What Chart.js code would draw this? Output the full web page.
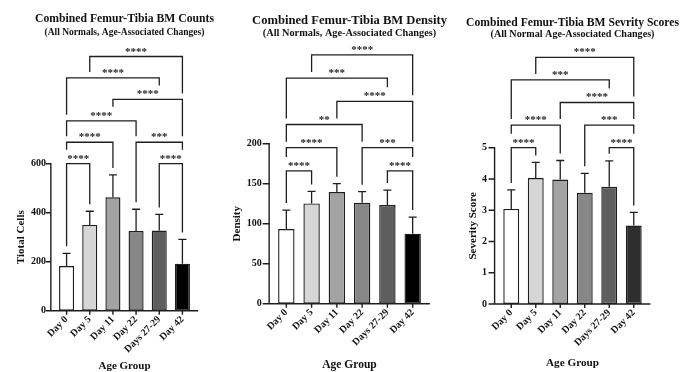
<!DOCTYPE html>
<html><head><meta charset="utf-8">
<script src="https://cdn.jsdelivr.net/npm/chart.js@4.4.1/dist/chart.umd.min.js"></script>
<style>
html,body{margin:0;padding:0;background:#fff;width:694px;height:372px;overflow:hidden;position:relative;}
canvas{position:absolute;top:0;}
</style></head><body>
<canvas id="c1" width="249" height="372" style="left:0px"></canvas>
<canvas id="c2" width="243" height="372" style="left:228px"></canvas>
<canvas id="c3" width="221" height="372" style="left:462px"></canvas>
<script>
// ---------- data ----------
const categories = ['Day 0', 'Day 5', 'Day 11', 'Day 22', 'Days 27-29', 'Day 42'];

const countMeans  = [182, 350, 463, 325, 327, 192];
const countErrors = [52, 56, 91, 89, 66, 99];
const countTicks  = [0, 200, 400, 600];

const densityMeans  = [93.3, 125.4, 139.6, 126.3, 123.3, 87.5];
const densityErrors = [23.7, 15.0, 10.4, 13.7, 18.7, 20.8];
const densityTicks  = [0, 50, 100, 150, 200];

const severityMeans  = [3.04, 4.03, 3.98, 3.56, 3.75, 2.51];
const severityErrors = [0.61, 0.50, 0.61, 0.62, 0.83, 0.42];
const severityTicks  = [0, 1, 2, 3, 4, 5];

// comparisons: [from index, to index, stars, tier]
const countComparisons = [
  [0, 1, '****', 0], [4, 5, '****', 0],
  [0, 2, '****', 1], [3, 5, '***', 1],
  [0, 3, '****', 2], [2, 5, '****', 3],
  [0, 4, '****', 4], [1, 5, '****', 5]
];
const densityComparisons = [
  [0, 1, '****', 0], [4, 5, '****', 0],
  [0, 2, '****', 1], [3, 5, '***', 1],
  [0, 3, '**', 2], [2, 5, '****', 3],
  [0, 4, '***', 4], [1, 5, '****', 5]
];
const severityComparisons = [
  [0, 1, '****', 0], [4, 5, '****', 0],
  [0, 2, '****', 1], [3, 5, '***', 1],
  [2, 5, '****', 2], [0, 4, '***', 3],
  [1, 5, '****', 4]
];

const countColors    = ['#ffffff', '#d6d6d6', '#a3a3a3', '#878787', '#5e5e5e', '#000000'];
const densityColors  = ['#ffffff', '#d6d6d6', '#a3a3a3', '#878787', '#5e5e5e', '#000000'];
const severityColors = ['#ffffff', '#d6d6d6', '#a3a3a3', '#878787', '#5e5e5e', '#2e2e2e'];

// ---------- drawing helpers ----------
const SERIF = '"Liberation Serif", "Times New Roman", serif';
const INK = '#1e1e1e';

const decorPlugin = {
  id: 'decor',
  afterDatasetsDraw(chart, args, opts) {
    const ctx = chart.ctx, xs = chart.scales.x, ys = chart.scales.y, ca = chart.chartArea;
    const meta = chart.getDatasetMeta(0);
    const vals = chart.data.datasets[0].data;
    const step = xs.getPixelForValue(1) - xs.getPixelForValue(0);
    const gap = step * opts.axisGap;
    const ax = ca.left - gap;
    const y0 = ys.getPixelForValue(0);
    ctx.save();
    ctx.strokeStyle = INK;
    ctx.lineWidth = 1.4;
    // axes
    ctx.beginPath();
    ctx.moveTo(ax, ys.getPixelForValue(ys.max) - 0.7);
    ctx.lineTo(ax, y0);
    ctx.lineTo(ca.right + gap, y0);
    ys.ticks.forEach(t => {
      const py = ys.getPixelForValue(t.value);
      ctx.moveTo(ax - opts.tickLen, py); ctx.lineTo(ax, py);
    });
    vals.forEach((v, i) => {
      const px = xs.getPixelForValue(i);
      ctx.moveTo(px, y0); ctx.lineTo(px, y0 + 4);
    });
    ctx.stroke();
    // error bars
    ctx.lineWidth = 1.3;
    const errTop = [];
    meta.data.forEach((bar, i) => {
      const px = bar.x;
      const top = ys.getPixelForValue(vals[i] + opts.errors[i]);
      errTop.push(top);
      ctx.beginPath();
      ctx.moveTo(px, bar.y); ctx.lineTo(px, top);
      ctx.moveTo(px - 4, top); ctx.lineTo(px + 4, top);
      ctx.stroke();
    });
    // brackets
    ctx.font = 'bold 11px ' + SERIF;
    const items = opts.brackets.map(b => {
      const [a, c, label, tier] = b;
      const y = ys.getPixelForValue(opts.tierBase + tier * opts.tierStep);
      const xa = xs.getPixelForValue(a), xc = xs.getPixelForValue(c);
      return { a, c, label, y, xa, xc, mid: (xa + xc) / 2, w: ctx.measureText(label).width, labelTop: y - 10 };
    });
    const legEnd = (item, idx, px) => {
      let best = errTop[idx] - 7;
      items.forEach(o => {
        if (o === item || o.y <= item.y + 1) return;
        if (idx >= o.a && idx <= o.c) best = Math.min(best, o.y - 6);
        if (Math.abs(px - o.mid) <= o.w / 2 + 2) best = Math.min(best, o.labelTop - 4);
      });
      return best;
    };
    ctx.fillStyle = INK;
    ctx.textAlign = 'center';
    ctx.textBaseline = 'alphabetic';
    items.forEach(it => {
      ctx.beginPath();
      ctx.moveTo(it.xa, legEnd(it, it.a, it.xa));
      ctx.lineTo(it.xa, it.y);
      ctx.lineTo(it.xc, it.y);
      ctx.lineTo(it.xc, legEnd(it, it.c, it.xc));
      ctx.stroke();
      ctx.fillText(it.label, it.mid, it.y - 2);
    });
    ctx.restore();
  }
};

function makeChart(id, P) {
  const y0 = P.y0;
  return new Chart(document.getElementById(id), {
    type: 'bar',
    data: {
      labels: categories,
      datasets: [{
        data: P.means,
        backgroundColor: P.colors,
        borderColor: INK,
        borderWidth: 1.4,
        borderSkipped: false,
        barPercentage: 0.65,
        categoryPercentage: 1.0
      }]
    },
    plugins: [decorPlugin],
    options: {
      responsive: false,
      animation: false,
      devicePixelRatio: 1,
      layout: { padding: { top: 0, left: 0, right: 0, bottom: 0 } },
      plugins: {
        legend: { display: false },
        tooltip: { enabled: false },
        title: {
          display: true, text: P.title, color: '#111',
          font: { family: SERIF, size: P.titleSize, weight: 'bold', lineHeight: 1 },
          padding: { top: P.titleTop, bottom: 0 }
        },
        subtitle: {
          display: true, text: P.subtitle, color: '#111',
          font: { family: SERIF, size: P.subSize, weight: 'bold', lineHeight: 1 },
          padding: { top: P.subTop, bottom: P.subBottom }
        },
        decor: {
          errors: P.errors, brackets: P.brackets, tierBase: P.tierBase, tierStep: P.tierStep,
          axisGap: 0.18, tickLen: P.tickLen
        }
      },
      scales: {
        x: {
          type: 'category', offset: true,
          grid: { display: false, drawTicks: false }, border: { display: false },
          ticks: {
            autoSkip: false, maxRotation: 45, minRotation: 45, color: '#111', padding: 3,
            font: { family: SERIF, size: 10, weight: 'bold' }
          },
          title: {
            display: true, text: 'Age Group', color: '#111',
            font: { family: SERIF, size: P.axisTitleSize, weight: 'bold', lineHeight: 1 },
            padding: { top: 0, bottom: P.xTitlePad }
          },
          afterFit(s) { s.height = 372 - y0; }
        },
        y: {
          min: 0, max: P.ticks[P.ticks.length - 1],
          grid: { display: false, drawTicks: false }, border: { display: false },
          afterBuildTicks(s) { s.ticks = P.ticks.map(v => ({ value: v })); },
          ticks: {
            color: '#111', padding: P.yTickPad,
            font: { family: SERIF, size: 10, weight: 'bold' }
          },
          title: {
            display: true, text: P.yTitle, color: '#111',
            font: { family: SERIF, size: 11, weight: 'bold', lineHeight: 1.2 },
            padding: { top: P.yTitlePad, bottom: 0 }
          },
          afterFit(s) { s.width = P.yw; }
        },
        yR: {
          position: 'right', display: true,
          grid: { display: false, drawTicks: false }, border: { display: false },
          ticks: { display: false },
          afterFit(s) { s.width = P.yw; }
        }
      }
    }
  });
}

makeChart('c1', {
  title: 'Combined Femur-Tibia BM Counts', subtitle: '(All Normals, Age-Associated Changes)',
  titleSize: 11.7, subSize: 9.5, titleTop: 13.6, subTop: 2.9, subBottom: 126,
  means: countMeans, errors: countErrors, colors: countColors, ticks: countTicks,
  brackets: countComparisons, tierBase: 600, tierStep: 87.5,
  yTitle: 'Tiotal Cells', yw: 55, yTickPad: 9, yTitlePad: 15, tickLen: 5,
  y0: 310.7, xTitlePad: 0, axisTitleSize: 11
});
makeChart('c2', {
  title: 'Combined Femur-Tibia BM Density', subtitle: '(All Normals, Age-Associated Changes)',
  titleSize: 12.6, subSize: 10.3, titleTop: 14, subTop: 1.5, subBottom: 105.3,
  means: densityMeans, errors: densityErrors, colors: densityColors, ticks: densityTicks,
  brackets: densityComparisons, tierBase: 166, tierStep: 29,
  yTitle: 'Density', yw: 45.7, yTickPad: 12, yTitlePad: 3, tickLen: 6.5,
  y0: 303.7, xTitlePad: 0.8, axisTitleSize: 11.5
});
makeChart('c3', {
  title: 'Combined Femur-Tibia BM Sevrity Scores', subtitle: '(All Normal Age-Associated Changes)',
  titleSize: 11.64, subSize: 10.15, titleTop: 17.2, subTop: 0.8, subBottom: 107.9,
  means: severityMeans, errors: severityErrors, colors: severityColors, ticks: severityTicks,
  brackets: severityComparisons, tierBase: 5, tierStep: 0.723,
  yTitle: 'Severity Score', yw: 37, yTickPad: 12, yTitlePad: 5, tickLen: 6,
  y0: 304, xTitlePad: 3.2, axisTitleSize: 11.2
});
</script>
</body></html>
